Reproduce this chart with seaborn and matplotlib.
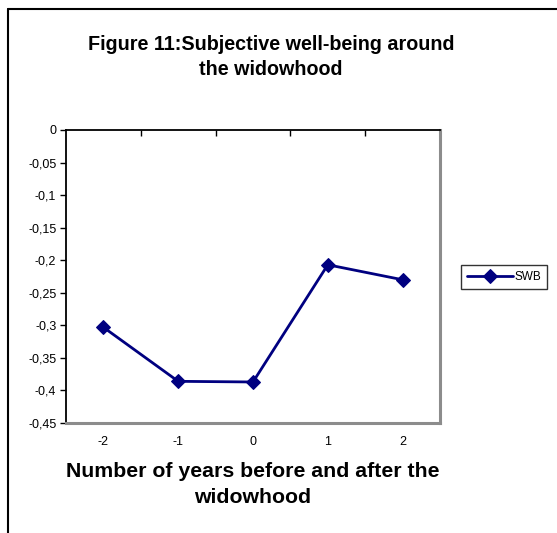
import matplotlib
matplotlib.use("Agg")
import matplotlib.pyplot as plt
from matplotlib.lines import Line2D
from matplotlib.ticker import FixedLocator, FixedFormatter
import seaborn as sns
import pandas as pd

# Data
years = [-2, -1, 0, 1, 2]
swb = [-0.303, -0.386, -0.387, -0.207, -0.230]
year_labels = ["-2", "-1", "0", "1", "2"]
y_ticks = [0, -0.05, -0.1, -0.15, -0.2, -0.25, -0.3, -0.35, -0.4, -0.45]
y_labels = ["0", "-0,05", "-0,1", "-0,15", "-0,2", "-0,25", "-0,3", "-0,35", "-0,4", "-0,45"]

sns.set_style("white")
plt.rcParams["font.family"] = ["Liberation Sans", "DejaVu Sans"]
plt.rcParams["text.color"] = "black"
plt.rcParams["axes.labelcolor"] = "black"
plt.rcParams["xtick.color"] = "black"
plt.rcParams["ytick.color"] = "black"

W, H = 557, 533
fig = plt.figure(figsize=(W / 100, H / 100), dpi=100)
fig.patch.set_facecolor("white")

L, R, T, B = 66, 440, 130, 423
ax = fig.add_axes([L / W, 1 - B / H, (R - L) / W, (B - T) / H])

df = pd.DataFrame({"year": years, "SWB": swb})
sns.lineplot(data=df, x="year", y="SWB", ax=ax, color="#000080", linewidth=2,
             marker="D", markersize=7.5, markeredgecolor="#000080", label="SWB")

ax.set_xlim(-2.5, 2.5)
ax.set_ylim(-0.45, 0)
ax.yaxis.set_major_locator(FixedLocator(y_ticks))
ax.yaxis.set_major_formatter(FixedFormatter(y_labels))
ax.xaxis.set_major_locator(FixedLocator(years))
ax.xaxis.set_major_formatter(FixedFormatter(year_labels))
ax.xaxis.set_minor_locator(FixedLocator([-1.5, -0.5, 0.5, 1.5]))

ax.tick_params(axis="y", which="major", left=True, direction="out", length=4,
               width=1, color="black", labelsize=9, labelcolor="black", pad=3)
ax.tick_params(axis="x", which="major", bottom=False, top=False, labelsize=9,
               labelcolor="black", pad=6)
ax.tick_params(axis="x", which="minor", bottom=False, top=True, direction="in",
               length=4, width=1, color="black")

for side in ("top", "left"):
    ax.spines[side].set_color("black")
    ax.spines[side].set_linewidth(1.3)
for side in ("right", "bottom"):
    ax.spines[side].set_color("#8c8c8c")
    ax.spines[side].set_linewidth(2.2)
    ax.spines[side].set_visible(True)

ax.set_xlabel("Number of years before and after the\nwidowhood", fontsize=15.3,
              fontweight="bold", labelpad=10, linespacing=1.45, color="black")
ax.set_ylabel("")

fig.text(271 / W, 1 - 57 / H, "Figure 11:Subjective well-being around\nthe widowhood",
         ha="center", va="center", fontsize=14.2, fontweight="bold",
         linespacing=1.45, color="black")

leg = ax.legend(loc="center left", bbox_to_anchor=(461 / W, 1 - 277 / H),
                bbox_transform=fig.transFigure, fontsize=8.5, frameon=True,
                fancybox=False, edgecolor="black", handlelength=3.9,
                borderpad=0.5, handletextpad=0.1, borderaxespad=0)
leg.get_frame().set_linewidth(1)
for t in leg.get_texts():
    t.set_color("black")

# outer chart border
fig.add_artist(Line2D([8 / W, 1], [1 - 9 / H, 1 - 9 / H], color="black", lw=1.5,
                      transform=fig.transFigure))
fig.add_artist(Line2D([8 / W, 8 / W], [1 - 9 / H, 0], color="black", lw=1.5,
                      transform=fig.transFigure))

fig.savefig("out.png", dpi=100, facecolor="white")
